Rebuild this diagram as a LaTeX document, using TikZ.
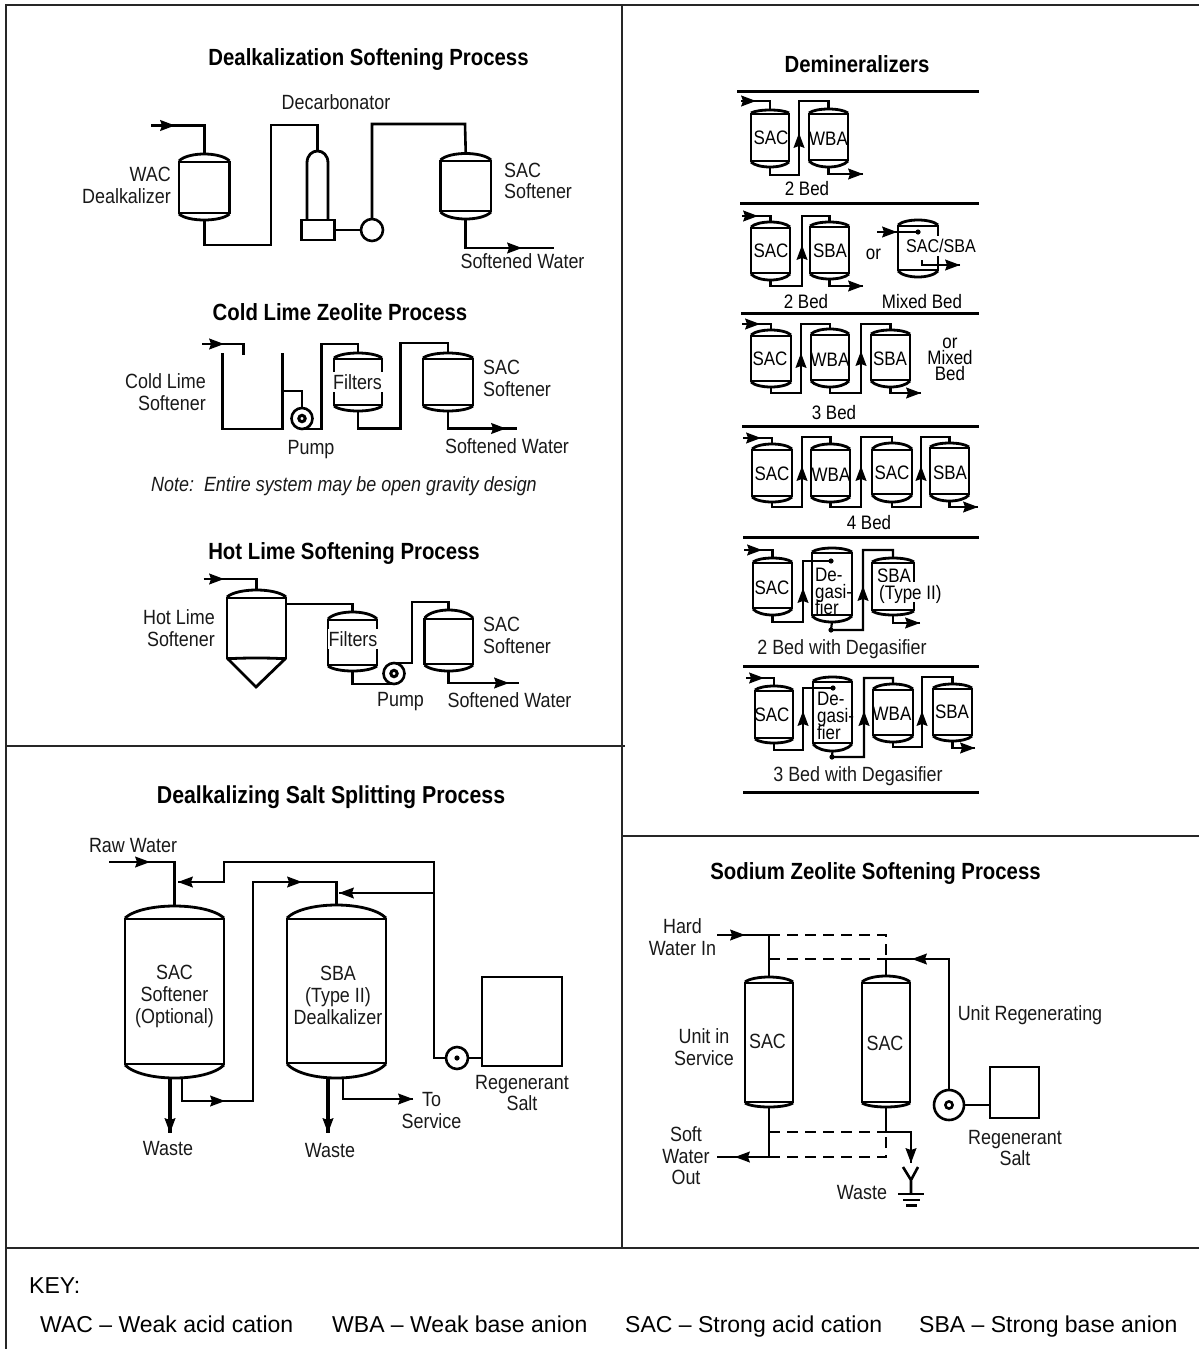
\documentclass[tikz,border=0pt]{standalone}
\usepackage{fontspec}
\setmainfont{Liberation Sans}
\newfontfamily\lab[FakeStretch=0.87]{Liberation Sans}
\newfontfamily\labi[FakeStretch=0.87,ItalicFont={Liberation Sans Italic}]{Liberation Sans}
\newfontfamily\ttl[FakeStretch=0.87,BoldFont={Liberation Sans Bold}]{Liberation Sans}
\usetikzlibrary{calc}
\tikzset{
  pipe/.style={line width=2.6pt,black,line join=miter},
  thinpipe/.style={line width=2.2pt,black},
  dashpipe/.style={line width=2.6pt,black,dash pattern=on 11pt off 7pt},
  hull/.style={line width=2.8pt,black},
  frame/.style={line width=1.7pt,black!85},
  sep/.style={line width=3pt,black},
  vbox/.style={inner sep=0pt,outer sep=0pt,draw=none,rectangle},
  box/.style={draw=black,line width=2.6pt,inner sep=0pt,outer sep=0pt,rectangle},
  pump/.style={draw=black,line width=2.6pt,circle,inner sep=0pt,outer sep=0pt,fill=white},
  lbl/.style={font={\lab\fontsize{20.6}{20.6}\selectfont},inner sep=0pt,align=center,text=black!90,text height=14.7pt,text depth=0pt},
  lbll/.style={lbl,anchor=west},
  lblr/.style={lbl,anchor=east},
  tight/.style={font={\lab\fontsize{19.5}{19.5}\selectfont},inner sep=0pt,align=center,text=black,text height=14pt,text depth=0pt},
  gap/.style={fill=white,inner xsep=1pt,inner ysep=3pt},
  ttle/.style={font={\ttl\bfseries\fontsize{23.4}{23.4}\selectfont},inner sep=0pt,text=black,text height=16.7pt,text depth=0pt},
  keytext/.style={font={\fontsize{23}{23}\selectfont},inner sep=0pt,anchor=west,text=black,text height=16.5pt,text depth=0pt}
}
% name, x1, top, x2, bottom, upper band, lower band
\newcommand{\vessel}[7]{%
  \node[vbox,minimum width={(#4-#2)*1pt},minimum height={(#5-#3)*1pt}] (#1) at ({(#2+#4)/2},{(#3+#5)/2}) {};
  \draw[hull] (#2,#6-1) -- (#2,#7+1) (#4,#6-1) -- (#4,#7+1) (#2,#6) -- (#4,#6) (#2,#7) -- (#4,#7);
  \draw[hull] (#2,#6-1) .. controls ({#2+0.18*(#4-#2)},{#3-(#6-1-#3)/3}) and ({#4-0.18*(#4-#2)},{#3-(#6-1-#3)/3}) .. (#4,#6-1);
  \draw[hull] (#2,#7+1) .. controls ({#2+0.18*(#4-#2)},{#5+(#5-#7-1)/3}) and ({#4-0.18*(#4-#2)},{#5+(#5-#7-1)/3}) .. (#4,#7+1);
}
% tip x, tip y, direction (y axis is flipped: 90 points up, -90 points down)
\newcommand{\flowtip}[3]{\fill[black,shift={(#1,#2)},rotate=#3] (0,0) -- (-15,-5.6) -- (-13,0) -- (-15,5.6) -- cycle;}
\begin{document}
\begin{tikzpicture}[x=1pt,y=-1pt]
\useasboundingbox (0,0) rectangle (1199,1349);
\fill[white] (0,0) rectangle (1199,1349);
% panel frame
\coordinate (ftl) at (6,5); \coordinate (ftr) at (1199,5); \coordinate (fbl) at (6,1349);
\coordinate (fc) at (622,5); \coordinate (fcb) at (622,1248);
\coordinate (fm1) at (6,746); \coordinate (fm2) at (625,746);
\coordinate (fr1) at (622,836); \coordinate (fr2) at (1199,836);
\coordinate (fk1) at (6,1248); \coordinate (fk2) at (1199,1248);
\draw[frame] (fbl) -- (ftl) -- (ftr) (fc) -- (fcb) (fm1) -- (fm2) (fr1) -- (fr2) (fk1) -- (fk2);

% ---------- Dealkalization
\node[ttle] (t1) at (368.5,57) {Dealkalization Softening Process};
\vessel{wac}{179}{154}{229.5}{220}{162}{213}
\node[vbox,minimum width=21pt,minimum height=69pt] (dec) at (317.5,185.5) {};
\draw[hull] (dec.south west) -- (307,163) .. controls (307,147) and (328,147) .. (328,163) -- (dec.south east);
\node[box,minimum width=33pt,minimum height=20pt] (decbase) at (318,230) {};
\node[pump,minimum size=22pt] (p1) at (372,230) {};
\vessel{sac1}{440.5}{153.5}{491}{219}{161}{211}
\coordinate (a0) at (151,125.5); \coordinate (a1) at (554,248);
\draw[pipe] (a0) -| (wac.north);
\draw[pipe] (wac.south) |- (271,245) -- (271,125) -| (dec.north);
\draw[pipe] (decbase.east) -- (p1.west);
\draw[pipe] (p1.north) |- (465,124) -- (sac1.north);
\draw[pipe] (sac1.south) |- (a1);
\flowtip{175}{125.5}{0}
\flowtip{522}{248}{0}
\node[lbl] (l1) at (336,102) {Decarbonator};
\node[lblr] (l2) at (171,174) {WAC};
\node[lblr] (l3) at (171,196) {Dealkalizer};
\node[lbll] (l4) at (504,170) {SAC};
\node[lbll] (l5) at (504,191) {Softener};
\node[lbl] (l6) at (522.5,261) {Softened Water};

% ---------- Cold lime
\node[ttle] (t2) at (340,312) {Cold Lime Zeolite Process};
\node[vbox,minimum width=59.5pt,minimum height=76pt] (tank) at (252.5,391) {};
\draw[hull] (tank.north west) |- (tank.south east) -- (tank.north east);
\node[pump,minimum size=21pt] (p2) at (302,418.5) {};
\draw[line width=3pt] (p2.center) circle (3.2);
\vessel{fil1}{334}{353}{382}{411}{359}{405}
\vessel{sac2}{423}{353}{473}{411}{359}{405}
\coordinate (b0) at (202,344); \coordinate (b1) at (243.6,355); \coordinate (b2) at (517,428.5);
\draw[pipe] (b0) -| (b1);
\draw[pipe] (tank.east) -| (p2.north);
\draw[pipe] (p2.south) -| (321.5,344) -| (fil1.north);
\draw[pipe] (fil1.south) |- (400.6,428.5) -- (400.6,343) -| (sac2.north);
\draw[pipe] (sac2.south) |- (b2);
\flowtip{224}{344}{0}
\flowtip{506}{428.5}{0}
\node[lblr] (l7) at (206,381) {Cold Lime};
\node[lblr] (l8) at (206,403) {Softener};
\node[lbl,gap] (l9) at (357.5,382) {Filters};
\node[lbl] (l10) at (311,447) {Pump};
\node[lbll] (l11) at (483,367) {SAC};
\node[lbll] (l12) at (483,389) {Softener};
\node[lbl] (l13) at (507,446) {Softened Water};
\node[lbl] (l14) at (344,484) {\labi\itshape Note:\ \ Entire system may be open gravity design};

% ---------- Hot lime
\node[ttle] (t3) at (344,551) {Hot Lime Softening Process};
\vessel{hot}{227}{590}{286}{658}{598}{658}
\draw[hull] (227,658) -- (256,687) -- (286,658);
\vessel{fil2}{328}{612}{377}{671}{620}{665}
\vessel{sac3}{424.5}{610}{473}{671}{619}{664}
\node[pump,minimum size=21pt] (p3) at (394,673.5) {};
\draw[line width=3pt] (p3.center) circle (3.2);
\coordinate (c0) at (203.5,579); \coordinate (c1) at (286,604); \coordinate (c2) at (519,683);
\draw[pipe] (c0) -| (hot.north);
\draw[pipe] (c1) -| (fil2.north);
\draw[pipe] (fil2.south) |- (p3.south);
\draw[pipe] (p3.north) -| (412,602) -| (sac3.north);
\draw[pipe] (sac3.south) |- (c2);
\flowtip{224}{579}{0}
\flowtip{509}{683}{0}
\node[lblr] (l15) at (215,617) {Hot Lime};
\node[lblr] (l16) at (215,639) {Softener};
\node[lbl,gap] (l17) at (353,639) {Filters};
\node[lbl] (l18) at (400.5,699) {Pump};
\node[lbll] (l19) at (483,624) {SAC};
\node[lbll] (l20) at (483,646) {Softener};
\node[lbl] (l21) at (509.5,700) {Softened Water};

% ---------- Salt splitting
\node[ttle,font={\ttl\bfseries\fontsize{24.5}{24.5}\selectfont}] (t4) at (331,795) {Dealkalizing Salt Splitting Process};
\vessel{ssac}{125}{906}{224}{1078}{919}{1064}
\vessel{ssba}{287}{905}{386}{1078}{919}{1063}
\node[box,minimum width=80pt,minimum height=89pt] (salt) at (522,1021.5) {};
\node[pump,minimum size=22pt] (p4) at (457,1058) {};
\fill (p4.center) circle (2.6);
\coordinate (d0) at (109,862); \coordinate (d1) at (178,882); \coordinate (d2) at (339,893);
\coordinate (d3) at (182,1078); \coordinate (d4) at (170,1078); \coordinate (d5) at (170,1133);
\coordinate (d6) at (328,1078); \coordinate (d7) at (328,1133); \coordinate (d8) at (343,1078); \coordinate (d9) at (413,1099);
\coordinate (dj) at (434,893);
\draw[pipe] (d0) -| (ssac.north);
\draw[pipe] (p4.west) -| (434,862) -| (224,882) -- (d1);
\draw[pipe] (dj) -- (d2);
\draw[pipe] (d3) |- (253,1101) -- (253,882) -| (ssba.north);
\draw[pipe,line width=3.4pt] (d4) -- (d5);
\draw[pipe,line width=3.4pt] (d6) -- (d7);
\draw[pipe] (d8) |- (d9);
\draw[pipe] (p4.east) -- (salt.west |- p4.east);
\flowtip{150}{862}{0}
\flowtip{178}{882}{180}
\flowtip{339}{893}{180}
\flowtip{225}{1101}{0}
\flowtip{302}{882}{0}
\flowtip{170}{1133}{-90}
\flowtip{328}{1133}{-90}
\flowtip{413}{1099}{0}
\node[lbl] (l22) at (133,845) {Raw Water};
\node[lbl] (l23) at (174.5,972) {SAC};
\node[lbl] (l24) at (174.5,994) {Softener};
\node[lbl] (l25) at (174.5,1016) {(Optional)};
\node[lbl] (l26) at (338,973) {SBA};
\node[lbl] (l27) at (338,995) {(Type II)};
\node[lbl] (l28) at (338,1017) {Dealkalizer};
\node[lbl] (l29) at (168,1148) {Waste};
\node[lbl] (l30) at (330,1150) {Waste};
\node[lbl] (l31) at (431.5,1099) {To};
\node[lbl] (l32) at (431.5,1121) {Service};
\node[lbl] (l33) at (522,1082) {Regenerant};
\node[lbl] (l34) at (522,1103) {Salt};

% ---------- Demineralizers
\node[ttle] (t5) at (857,64) {Demineralizers};
\coordinate (s1a) at (737,91); \coordinate (s1b) at (979,91);
\coordinate (s2a) at (740,203); \coordinate (s2b) at (979,203);
\coordinate (s3a) at (741,313); \coordinate (s3b) at (979,313);
\coordinate (s4a) at (742,426); \coordinate (s4b) at (979,426);
\coordinate (s5a) at (743,537); \coordinate (s5b) at (979,537);
\coordinate (s6a) at (743,666); \coordinate (s6b) at (979,666);
\coordinate (s7a) at (743,792); \coordinate (s7b) at (979,792);
\draw[sep] (s1a) -- (s1b) (s2a) -- (s2b) (s3a) -- (s3b) (s4a) -- (s4b) (s5a) -- (s5b) (s6a) -- (s6b) (s7a) -- (s7b);
% row 1
\vessel{r1a}{751}{110}{789}{167}{114}{161}
\vessel{r1b}{809}{109}{848}{167}{114}{160}
\coordinate (r1i) at (741,101); \coordinate (r1o) at (863,174);
\draw[thinpipe] (r1i) -| (r1a.north);
\draw[thinpipe] (r1a.south) |- (799,175) -- (799,101) -| (r1b.north);
\draw[thinpipe] (r1b.south) |- (r1o);
\flowtip{756}{101}{0} \flowtip{799}{133}{90} \flowtip{863}{174}{0}
\node[tight] (m1) at (771,137) {SAC};
\node[tight] (m2) at (828.5,138) {WBA};
\node[tight] (m3) at (807,188) {2 Bed};
% row 2
\vessel{r2a}{751}{222}{790}{280}{228}{273}
\vessel{r2b}{810}{222}{849}{279}{227}{273}
\coordinate (r2i) at (742,216); \coordinate (r2o) at (863,286);
\draw[thinpipe] (r2i) -| (r2a.north);
\draw[thinpipe] (r2a.south) |- (802,286) -- (802,216) -| (r2b.north);
\draw[thinpipe] (r2b.south) |- (r2o);
\flowtip{758}{216}{0} \flowtip{802}{245}{90} \flowtip{863}{286}{0}
\node[tight] (m4) at (771,250) {SAC};
\node[tight] (m5) at (830,250) {SBA};
\node[tight] (m6) at (873.5,252) {or};
\node[tight] (m7) at (806,301) {2 Bed};
% mixed bed
\vessel{mix}{898}{220}{938}{277}{226}{270}
\node[tight,gap,inner xsep=0pt,font={\lab\fontsize{18.5}{18.5}\selectfont},text height=13.3pt] (m8) at (941,246) {SAC/SBA};
\fill (918,232) circle (2.6) coordinate (mixd);
\coordinate (mixi) at (877,232); \coordinate (mixo) at (960,265); \coordinate (mixs) at (922,260);
\draw[thinpipe] (mixi) -- (mixd);
\draw[thinpipe] (mixs) |- (mixo);
\flowtip{897}{232}{0} \flowtip{960}{265}{0}
\node[tight] (m9) at (922,301) {Mixed Bed};
% row 3
\vessel{r3a}{751}{330}{791}{387}{336}{381}
\vessel{r3b}{811}{329}{849}{387}{335}{380}
\vessel{r3c}{871}{330}{910}{387}{335}{380}
\coordinate (r3i) at (742,324); \coordinate (r3o) at (921,393);
\draw[thinpipe] (r3i) -| (r3a.north);
\draw[thinpipe] (r3a.south) |- (801,393) -- (801,324) -| (r3b.north);
\draw[thinpipe] (r3b.south) |- (861,393) -- (861,324) -| (r3c.north);
\draw[thinpipe] (r3c.south) |- (r3o);
\flowtip{760}{324}{0} \flowtip{801}{353}{90} \flowtip{861}{351}{90} \flowtip{921}{393}{0}
\node[tight] (m10) at (770,358) {SAC};
\node[tight] (m11) at (830,359) {WBA};
\node[tight] (m12) at (890,358) {SBA};
\node[tight] (m13) at (950,341) {or};
\node[tight] (m14) at (950,357) {Mixed};
\node[tight] (m15) at (950,373) {Bed};
\node[tight] (m16) at (834,412) {3 Bed};
% row 4
\vessel{r4a}{752}{444}{792}{502}{450}{496}
\vessel{r4b}{811}{444}{850}{502}{450}{496}
\vessel{r4c}{872}{443}{912}{502}{450}{494}
\vessel{r4d}{930}{443}{969}{501}{448}{494}
\coordinate (r4i) at (743,438); \coordinate (r4o) at (978,507);
\draw[thinpipe] (r4i) -| (r4a.north);
\draw[thinpipe] (r4a.south) |- (802,507) -- (802,437) -| (r4b.north);
\draw[thinpipe] (r4b.south) |- (861,507) -- (861,437) -| (r4c.north);
\draw[thinpipe] (r4c.south) |- (921,507) -- (921,437) -| (r4d.north);
\draw[thinpipe] (r4d.south) |- (r4o);
\flowtip{761}{438}{0} \flowtip{802}{466}{90} \flowtip{861}{466}{90} \flowtip{921}{466}{90} \flowtip{978}{507}{0}
\node[tight] (m17) at (772,473) {SAC};
\node[tight] (m18) at (831,474) {WBA};
\node[tight] (m19) at (892,472) {SAC};
\node[tight] (m20) at (950,472) {SBA};
\node[tight] (m21) at (869,522) {4 Bed};
% row 5
\vessel{r5a}{753}{558}{792}{615}{563}{608}
\vessel{r5b}{812}{548}{852}{622}{553}{615}
\vessel{r5c}{872}{558}{914}{615}{563}{610}
\fill (831,561) circle (2.6) coordinate (r5d1);
\fill (831,630) circle (2.6) coordinate (r5d2);
\coordinate (r5i) at (744,550); \coordinate (r5o) at (920,623);
\draw[thinpipe] (r5i) -| (r5a.north);
\draw[thinpipe] (r5a.south) |- (803,622) -- (803,561) -- (r5d1);
\draw[thinpipe] (r5b.south) -- (r5d2) -| (863,550) -| (r5c.north);
\draw[thinpipe] (r5c.south) |- (r5o);
\flowtip{762}{550}{0} \flowtip{803}{588}{90} \flowtip{863}{586}{90} \flowtip{920}{623}{0}
\node[tight] (m22) at (772,587) {SAC};
\node[tight,anchor=west] (m23) at (815,574) {De-};
\node[tight,anchor=west] (m24) at (815,591) {gasi-};
\node[tight,anchor=west] (m25) at (815,607) {fier};
\node[tight] (m26) at (894,575) {SBA};
\node[tight,gap,inner xsep=0pt,anchor=west] (m27) at (879,592) {(Type II)};
\node[lbl] (m28) at (842,647) {2 Bed with Degasifier};
% row 6
\vessel{r6a}{755}{686}{793}{743}{691}{738}
\vessel{r6b}{813}{677}{852}{751}{682}{743}
\vessel{r6c}{873}{684}{913}{742}{690}{735}
\vessel{r6d}{933}{684}{972}{741}{689}{735}
\fill (833,688) circle (2.6) coordinate (r6d1);
\fill (832,757) circle (2.6) coordinate (r6d2);
\coordinate (r6i) at (746,678); \coordinate (r6o) at (975,748);
\draw[thinpipe] (r6i) -| (r6a.north);
\draw[thinpipe] (r6a.south) |- (803,750) -- (803,688) -- (r6d1);
\draw[thinpipe] (r6b.south) -- (r6d2) -| (864,678) -| (r6c.north);
\draw[thinpipe] (r6c.south) |- (922,747) -- (922,677) -| (r6d.north);
\draw[thinpipe] (r6d.south) |- (r6o);
\flowtip{764}{678}{0} \flowtip{803}{711}{90} \flowtip{864}{711}{90} \flowtip{922}{711}{90} \flowtip{975}{748}{0}
\node[tight] (m29) at (772,714) {SAC};
\node[tight,anchor=west] (m30) at (817,698) {De-};
\node[tight,anchor=west] (m31) at (817,715) {gasi-};
\node[tight,anchor=west] (m32) at (817,732) {fier};
\node[tight] (m33) at (892,713) {WBA};
\node[tight] (m34) at (952,711) {SBA};
\node[lbl] (m35) at (858,774) {3 Bed with Degasifier};

% ---------- Sodium zeolite
\node[ttle] (t6) at (875.5,871) {Sodium Zeolite Softening Process};
\vessel{z1}{745}{977}{793}{1107}{983}{1102}
\vessel{z2}{862}{976}{910}{1107}{983}{1102}
\node[box,minimum width=49pt,minimum height=51pt] (zsalt) at (1014.5,1092.5) {};
\node[pump,minimum size=30pt] (p5) at (949,1105) {};
\draw[line width=2.6pt] (p5.center) circle (3.6);
\coordinate (e0) at (717,935); \coordinate (e1) at (769,935); \coordinate (e2) at (886,935);
\coordinate (e3) at (769,959); \coordinate (e4) at (886,959);
\coordinate (e5) at (769,1132); \coordinate (e6) at (886,1132);
\coordinate (e7) at (769,1157); \coordinate (e8) at (886,1157); \coordinate (e9) at (717,1157);
\coordinate (e10) at (911,1163);
\draw[pipe] (e0) -- (e1) -- (z1.north);
\draw[dashpipe] (e1) -- (e2) -- (e4);
\draw[dashpipe] (e3) -- (e4);
\draw[pipe] (p5.north) |- (e4) -- (z2.north);
\draw[pipe] (p5.east) -- (zsalt.west |- p5.east);
\draw[pipe] (z1.south) -- (e7) -- (e9);
\draw[dashpipe] (e5) -- (e6);
\draw[dashpipe] (e7) -- (e8) -- (e6);
\draw[pipe] (z2.south) -- (e6) -| (e10);
\coordinate (g1) at (903,1167); \coordinate (g2) at (911,1180); \coordinate (g3) at (918,1167); \coordinate (g4) at (911,1194);
\draw[pipe] (g1) -- (g2) -- (g3) (g2) -- (g4);
\draw[pipe] (898,1194) -- (924,1194) (903,1200) -- (920,1200) (906,1205.5) -- (917,1205.5);
\flowtip{745}{935}{0}
\flowtip{912}{959}{180}
\flowtip{735}{1157}{180}
\flowtip{911}{1163}{-90}
\node[lbl] (n1) at (682.5,926) {Hard};
\node[lbl] (n2) at (682.5,948) {Water In};
\node[lbl] (n3) at (704,1036) {Unit in};
\node[lbl] (n4) at (704,1058) {Service};
\node[lbl] (n5) at (767.5,1041) {SAC};
\node[lbl] (n6) at (885,1043) {SAC};
\node[lbl] (n7) at (1030,1013) {Unit Regenerating};
\node[lbl] (n8) at (1015,1137) {Regenerant};
\node[lbl] (n9) at (1015,1158) {Salt};
\node[lbl] (n10) at (686,1134) {Soft};
\node[lbl] (n11) at (686,1156) {Water};
\node[lbl] (n12) at (686,1177) {Out};
\node[lbl] (n13) at (862,1192) {Waste};

% ---------- Key
\node[keytext] (k0) at (29,1285) {KEY:};
\node[keytext] (k1) at (40,1324) {WAC – Weak acid cation};
\node[keytext] (k2) at (332,1324) {WBA – Weak base anion};
\node[keytext] (k3) at (625,1324) {SAC – Strong acid cation};
\node[keytext] (k4) at (919,1324) {SBA – Strong base anion};
\end{tikzpicture}
\end{document}
